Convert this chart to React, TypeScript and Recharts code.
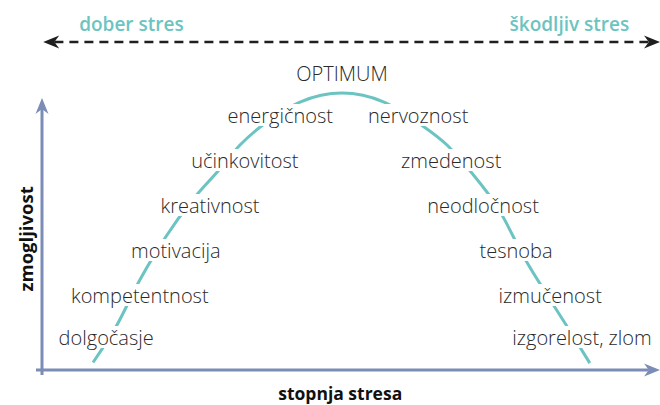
import { useLayoutEffect, useRef, useState } from "react";
import {
  ComposedChart,
  Line,
  Scatter,
  XAxis,
  YAxis,
  ReferenceLine,
  ReferenceDot,
} from "recharts";

// stress level (x) vs performance (y)
const curveStress = [8.5, 12.3, 16.3, 20.5, 25, 29.2, 33, 37, 43, 50, 57, 63, 67.5, 71.5, 76, 80.5, 84.5, 88, 91.3];
const curvePerf = [2.5, 14.3, 30, 44, 56.5, 66, 75, 82, 89.3, 92.3, 89.3, 82, 75, 66, 54, 37, 24, 13, 2.3];

// labels sitting on the curve
const labelNames = [
  "dolgočasje",
  "kompetentnost",
  "motivacija",
  "kreativnost",
  "učinkovitost",
  "energičnost",
  "OPTIMUM",
  "nervoznost",
  "zmedenost",
  "neodločnost",
  "tesnoba",
  "izmučenost",
  "izgorelost, zlom",
];
const labelStress = [10.7, 16.3, 22.3, 28, 33.8, 39.7, 50, 62.7, 68.2, 73.5, 79, 84.7, 90];
const labelPerf = [11, 25, 40, 55, 70, 85, 99, 85, 70, 55, 40, 25, 11];

const goodLabel = "dober stres";
const badLabel = "škodljiv stres";
const xTitle = "stopnja stresa";
const yTitle = "zmogljivost";

const curveData = curveStress.map((x, i) => ({ x, y: curvePerf[i] }));
const labelData = labelNames.map((name, i) => ({ name, x: labelStress[i], y: labelPerf[i] }));

const TEAL = "#6cc4c2";
const AXIS = "#7b8cb6";
const INK = "#2a2a2a";
const FONT = "'Open Sans', sans-serif";

function LabelMark(props: any) {
  const { cx, cy, payload } = props;
  const ref = useRef<SVGTextElement>(null);
  const [w, setW] = useState(payload.name.length * 10);
  useLayoutEffect(() => {
    if (ref.current) setW(ref.current.getBBox().width);
  }, [payload.name]);
  return (
    <g>
      <rect x={cx - w / 2 - 4} y={cy - 11} width={w + 8} height={22} fill="#fff" />
      <text
        ref={ref}
        x={cx}
        y={cy}
        textAnchor="middle"
        dominantBaseline="central"
        fontFamily={FONT}
        fontWeight={300}
        fontSize={20}
        fill={INK}
      >
        {payload.name}
      </text>
    </g>
  );
}

function ArrowLine(props: any) {
  const { x1, y1, x2, y2, color, width, dash, both } = props;
  const len = Math.hypot(x2 - x1, y2 - y1);
  const ux = (x2 - x1) / len;
  const uy = (y2 - y1) / len;
  const hl = 16;
  const hw = 6.5;
  const head = (tx: number, ty: number, dx: number, dy: number) => {
    const bx = tx - dx * hl;
    const by = ty - dy * hl;
    const nx = tx - dx * hl * 0.7;
    const ny = ty - dy * hl * 0.7;
    return `${tx},${ty} ${bx - dy * hw},${by + dx * hw} ${nx},${ny} ${bx + dy * hw},${by - dx * hw}`;
  };
  const sx = both ? x1 + ux * hl * 0.7 : x1;
  const sy = both ? y1 + uy * hl * 0.7 : y1;
  return (
    <g>
      <line
        x1={sx}
        y1={sy}
        x2={x2 - ux * hl * 0.7}
        y2={y2 - uy * hl * 0.7}
        stroke={color}
        strokeWidth={width}
        strokeDasharray={dash}
      />
      <polygon points={head(x2, y2, ux, uy)} fill={color} />
      {both && <polygon points={head(x1, y1, -ux, -uy)} fill={color} />}
    </g>
  );
}

function TextMark(props: any) {
  const { cx, cy, value, color, size, weight, rotate } = props;
  return (
    <text
      x={cx}
      y={cy}
      textAnchor="middle"
      dominantBaseline="central"
      fontFamily={FONT}
      fontWeight={weight}
      fontSize={size}
      fill={color}
      transform={rotate ? `rotate(-90 ${cx} ${cy})` : undefined}
    >
      {value}
    </text>
  );
}

export default function App() {
  return (
    <div style={{ position: "absolute", left: 0, top: 0, background: "#fff" }}>
      <ComposedChart width={660} height={405} margin={{ top: 10, right: 0, bottom: 5, left: 0 }}>
        <XAxis type="number" dataKey="x" domain={[-7, 103]} hide />
        <YAxis type="number" dataKey="y" domain={[-10, 120]} hide />

        <ReferenceLine
          ifOverflow="visible"
          segment={[{ x: 0, y: -1.7 }, { x: 0, y: 90.7 }]}
          shape={(p: any) => <ArrowLine {...p} color={AXIS} width={3} />}
        />
        <ReferenceLine
          ifOverflow="visible"
          segment={[{ x: -1, y: 0 }, { x: 103, y: 0 }]}
          shape={(p: any) => <ArrowLine {...p} color={AXIS} width={3} />}
        />
        <ReferenceLine
          ifOverflow="visible"
          segment={[{ x: 0.2, y: 109.3 }, { x: 103, y: 109.3 }]}
          shape={(p: any) => <ArrowLine {...p} color="#1f1f1f" width={2.5} dash="9 6" both />}
        />

        <ReferenceDot
          x={14.9}
          y={115.3}
          ifOverflow="visible"
          shape={(p: any) => <TextMark {...p} value={goodLabel} color={TEAL} size={19} weight={600} />}
        />
        <ReferenceDot
          x={87.9}
          y={115.3}
          ifOverflow="visible"
          shape={(p: any) => <TextMark {...p} value={badLabel} color={TEAL} size={19} weight={600} />}
        />
        <ReferenceDot
          x={49.7}
          y={-7.7}
          ifOverflow="visible"
          shape={(p: any) => <TextMark {...p} value={xTitle} color="#111" size={17.5} weight={700} />}
        />
        <ReferenceDot
          x={-2.8}
          y={43.7}
          ifOverflow="visible"
          shape={(p: any) => <TextMark {...p} value={yTitle} color="#111" size={18.5} weight={700} rotate />}
        />

        <Line
          data={curveData}
          dataKey="y"
          type="monotone"
          stroke={TEAL}
          strokeWidth={3}
          dot={false}
          isAnimationActive={false}
        />
        <Scatter data={labelData} dataKey="y" shape={LabelMark} isAnimationActive={false} />
      </ComposedChart>
    </div>
  );
}
